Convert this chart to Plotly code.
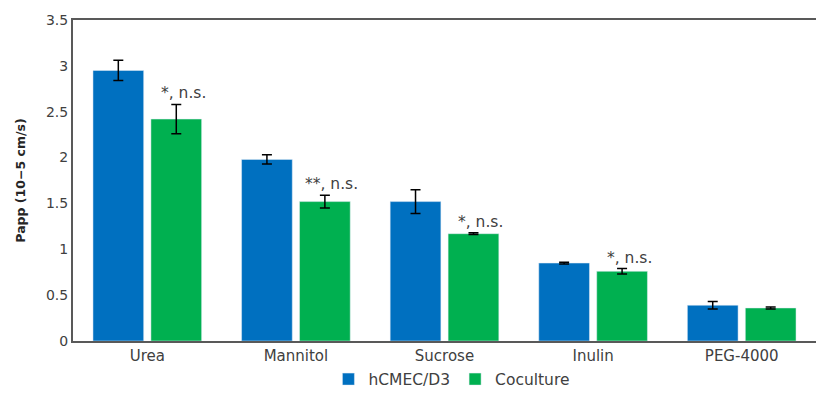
import plotly.graph_objects as go

categories = ["Urea", "Mannitol", "Sucrose", "Inulin", "PEG-4000"]
hcmec_vals = [2.95, 1.98, 1.52, 0.85, 0.39]
hcmec_err = [0.11, 0.05, 0.13, 0.01, 0.04]
cocult_vals = [2.42, 1.52, 1.17, 0.76, 0.36]
cocult_err = [0.16, 0.07, 0.01, 0.03, 0.01]
sig_labels = ["*, n.s.", "**, n.s.", "*, n.s.", "*, n.s.", ""]
y_ticks = [0, 0.5, 1, 1.5, 2, 2.5, 3, 3.5]
y_tick_text = ["0", "0.5", "1", "1.5", "2", "2.5", "3", "3.5"]

font_family = "DejaVu Sans"
txt_color = "#404040"

fig = go.Figure()
fig.add_trace(go.Bar(
    name="hCMEC/D3", x=categories, y=hcmec_vals,
    marker=dict(color="#0070C0"),
    error_y=dict(type="data", array=hcmec_err, visible=True,
                 color="black", thickness=1.5, width=5),
))
fig.add_trace(go.Bar(
    name="Coculture", x=categories, y=cocult_vals,
    marker=dict(color="#00B050"),
    error_y=dict(type="data", array=cocult_err, visible=True,
                 color="black", thickness=1.5, width=5),
))

for i, (cat, lab) in enumerate(zip(categories, sig_labels)):
    if not lab:
        continue
    fig.add_annotation(
        x=cat, y=cocult_vals[i] + cocult_err[i], text=lab,
        showarrow=False, xref="x", yref="y",
        xanchor="center", yanchor="bottom", xshift=36, yshift=0,
        font=dict(family=font_family, size=15.5, color=txt_color),
    )

fig.update_layout(
    width=816, height=398,
    margin=dict(l=73, r=0, t=20, b=57),
    paper_bgcolor="white", plot_bgcolor="white",
    barmode="group", bargap=0.22, bargroupgap=0.125,
    font=dict(family=font_family, size=14, color=txt_color),
    showlegend=True,
    legend=dict(orientation="h", x=0.51, xanchor="center",
                y=-0.12, yanchor="middle",
                font=dict(family=font_family, size=15.5, color=txt_color),
                itemwidth=30, traceorder="normal"),
    xaxis=dict(showline=True, linecolor="#595959", linewidth=2, mirror=True,
               showgrid=False, ticks="", tickfont=dict(size=15, color=txt_color)),
    yaxis=dict(range=[0, 3.5], tickvals=y_ticks, ticktext=y_tick_text,
               showline=True, linecolor="#595959", linewidth=2,
               showgrid=False, zeroline=False, ticks="",
               tickfont=dict(size=14, color=txt_color),
               title=dict(text="<b>Papp (10−5 cm/s)</b>",
                          font=dict(family=font_family, size=12.5, color="#262626"),
                          standoff=18)),
)

fig.write_html("out.html")
